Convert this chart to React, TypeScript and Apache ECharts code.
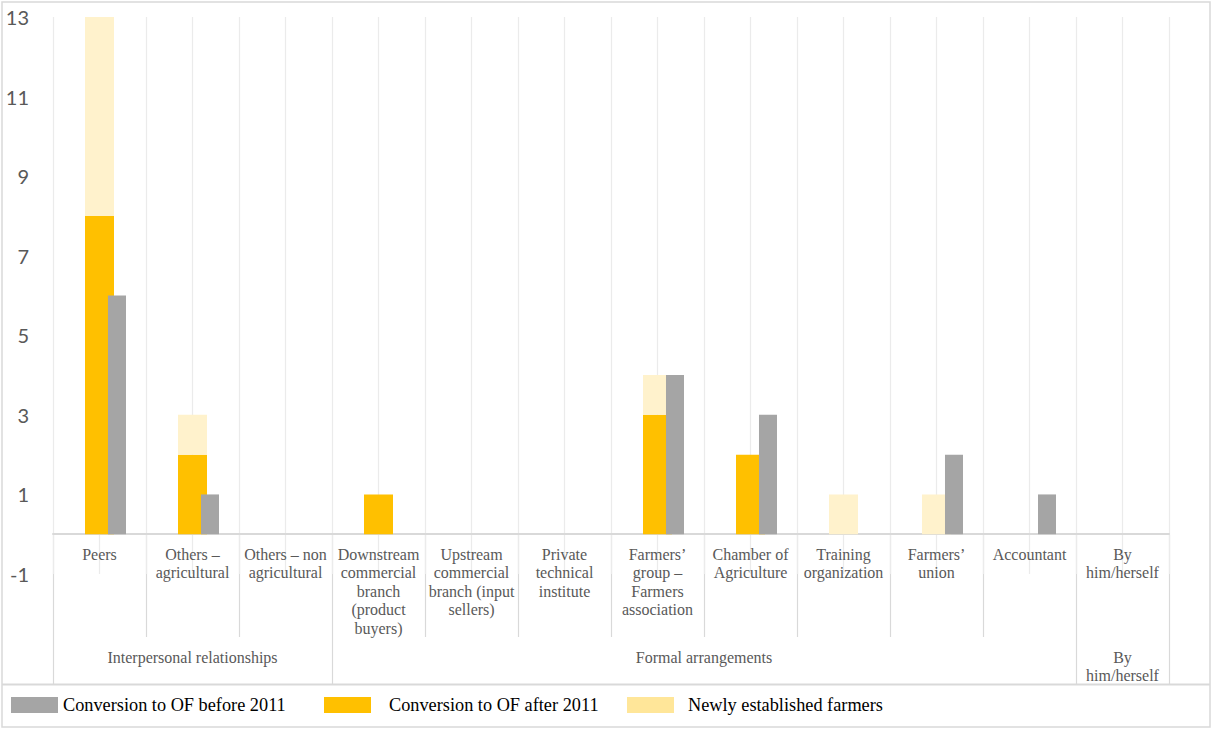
import React, { useEffect, useRef } from "react";
import * as echarts from "echarts";

const categories = [
  "Peers",
  "Others –\nagricultural",
  "Others – non\nagricultural",
  "Downstream\ncommercial\nbranch\n(product\nbuyers)",
  "Upstream\ncommercial\nbranch (input\nsellers)",
  "Private\ntechnical\ninstitute",
  "Farmers’\ngroup –\nFarmers\nassociation",
  "Chamber of\nAgriculture",
  "Training\norganization",
  "Farmers’\nunion",
  "Accountant",
  "By\nhim/herself",
];

const groups = [
  { name: "Interpersonal relationships", span: 3 },
  { name: "Formal arrangements", span: 8 },
  { name: "By\nhim/herself", span: 1 },
];

const beforeValues = [6, 1, 0, 0, 0, 0, 4, 3, 0, 2, 1, 0];
const afterValues = [8, 2, 0, 1, 0, 0, 3, 2, 0, 0, 0, 0];
const newlyValues = [5, 1, 0, 0, 0, 0, 1, 0, 1, 1, 0, 0];

const yTickLabels = [-1, 1, 3, 5, 7, 9, 11, 13];

const S_BEFORE = "Conversion to OF before 2011";
const S_AFTER = "Conversion to OF after 2011";
const S_NEW = "Newly established farmers";

const W = 1212;
const H = 729;
const GRID_LEFT = 53;
const GRID_RIGHT = 43;
const GRID_TOP = 17;
const GRID_BOTTOM = 155;

const SERIF = "'Liberation Serif', 'Times New Roman', serif";
const LINE = "#d9d9d9";

export default function App() {
  const ref = useRef<HTMLDivElement>(null);

  useEffect(() => {
    document.body.style.margin = "0";
    if (!ref.current) return;
    const chart = echarts.init(ref.current, undefined, { renderer: "svg" });

    const plotW = W - GRID_LEFT - GRID_RIGHT;
    const cw = plotW / categories.length;
    const axisY = 535;
    const sepBottom = 637;
    const tableBottom = 685;

    const graphics: any[] = [];
    graphics.push({
      type: "rect",
      shape: { x: 2, y: 2, width: W - 4, height: H - 4 },
      style: { fill: "none", stroke: LINE, lineWidth: 1.5 },
      silent: true,
    });
    graphics.push({
      type: "line",
      shape: { x1: 2, y1: 684.5, x2: W - 2, y2: 684.5 },
      style: { stroke: LINE, lineWidth: 2 },
      silent: true,
    });
    const groupBounds: number[] = [0];
    let acc = 0;
    groups.forEach((g) => {
      acc += g.span;
      groupBounds.push(acc);
    });
    for (let i = 0; i <= categories.length; i++) {
      const x = Math.round(GRID_LEFT + i * cw) + 0.5;
      const isGroup = groupBounds.includes(i);
      graphics.push({
        type: "line",
        shape: { x1: x, y1: axisY, x2: x, y2: isGroup ? tableBottom : sepBottom },
        style: { stroke: LINE, lineWidth: 1.2 },
        silent: true,
      });
    }
    let start = 0;
    groups.forEach((g) => {
      const cx = GRID_LEFT + (start + g.span / 2) * cw;
      graphics.push({
        type: "text",
        x: cx,
        y: 648,
        style: {
          text: g.name,
          align: "center",
          verticalAlign: "top",
          fontSize: 16,
          fontFamily: SERIF,
          lineHeight: 18.5,
          fill: "#595959",
        },
        silent: true,
      });
      start += g.span;
    });

    const legendBase = {
      orient: "horizontal",
      top: 696,
      padding: 0,
      itemWidth: 47,
      itemHeight: 16,
      icon: "rect",
      selectedMode: false,
      textStyle: { fontSize: 18.3, fontFamily: SERIF, color: "#000" },
    };

    chart.setOption({
      animation: false,
      backgroundColor: "#fff",
      grid: {
        left: GRID_LEFT,
        right: GRID_RIGHT,
        top: GRID_TOP,
        bottom: GRID_BOTTOM,
        containLabel: false,
      },
      legend: [
        { ...legendBase, left: 11, data: [S_BEFORE] },
        {
          ...legendBase,
          left: 324,
          data: [S_AFTER],
          textStyle: { ...legendBase.textStyle, padding: [0, 0, 0, 13] },
        },
        {
          ...legendBase,
          left: 627,
          data: [{ name: S_NEW, itemStyle: { color: "#FFE699" } }],
          textStyle: { ...legendBase.textStyle, padding: [0, 0, 0, 9] },
        },
      ],
      xAxis: [
        {
          type: "category",
          data: categories,
          position: "bottom",
          axisLine: { show: true, onZero: true, lineStyle: { color: LINE, width: 2 } },
          axisTick: { show: false },
          splitLine: { show: false },
          axisLabel: {
            interval: 0,
            margin: -29,
            fontSize: 16,
            lineHeight: 18.5,
            fontFamily: SERIF,
            color: "#595959",
          },
        },
        {
          type: "category",
          data: categories,
          position: "top",
          show: false,
          axisLine: { onZero: false },
        },
        {
          type: "category",
          data: categories.flatMap((c) => [c + "-a", c + "-b"]),
          position: "top",
          axisLine: { show: false, onZero: false },
          axisTick: { show: false, interval: 0 },
          axisLabel: { show: false, interval: 0 },
          splitLine: { show: true, interval: 0, lineStyle: { color: "#ebebeb", width: 1.2 } },
        },
      ],
      yAxis: {
        type: "value",
        min: -1,
        max: 13,
        interval: 1,
        axisLine: { show: false },
        axisTick: { show: false },
        splitLine: { show: false },
        axisLabel: {
          margin: 24,
          fontSize: 20,
          fontFamily: "Lato, 'Open Sans', sans-serif",
          color: "#595959",
          formatter: (v: number) => (yTickLabels.includes(v) ? String(v) : ""),
        },
      },
      series: [
        {
          name: S_AFTER,
          type: "bar",
          xAxisIndex: 0,
          stack: "left",
          barWidth: 29,
          itemStyle: { color: "#FFC000" },
          data: afterValues,
        },
        {
          name: S_NEW,
          type: "bar",
          xAxisIndex: 0,
          stack: "left",
          barWidth: 29,
          itemStyle: { color: "#FFF2CC" },
          data: newlyValues,
        },
        {
          name: "_spacer",
          type: "bar",
          xAxisIndex: 1,
          barWidth: 18,
          barGap: "94.4%",
          itemStyle: { color: "transparent" },
          data: categories.map(() => "-"),
          silent: true,
        },
        {
          name: S_BEFORE,
          type: "bar",
          xAxisIndex: 1,
          barWidth: 18,
          barGap: "94.4%",
          itemStyle: { color: "#A5A5A5" },
          data: beforeValues,
        },
      ],
      graphic: graphics,
    });

    return () => {
      chart.dispose();
    };
  }, []);

  return <div ref={ref} style={{ width: W, height: H }} />;
}
